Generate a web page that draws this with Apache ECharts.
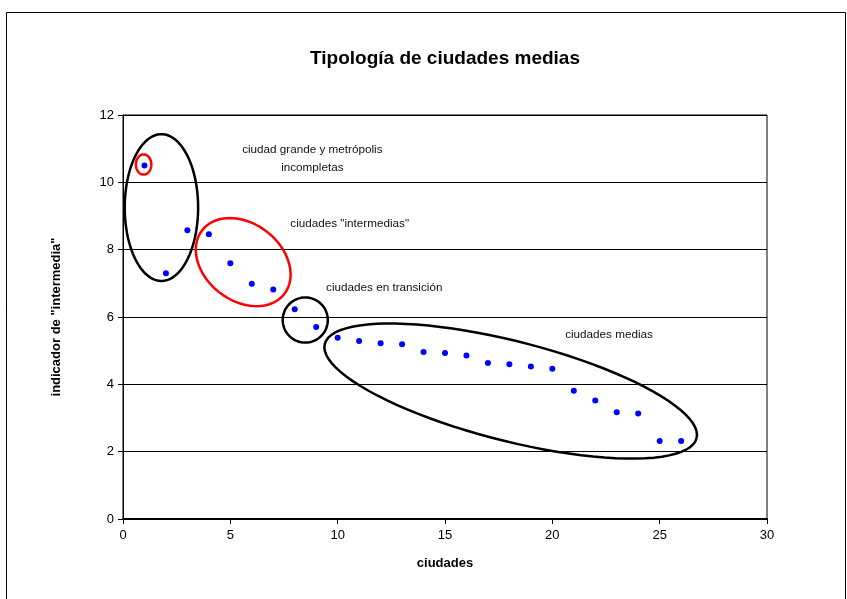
<!DOCTYPE html>
<html>
<head>
<meta charset="utf-8">
<script src="https://cdn.jsdelivr.net/npm/echarts@6/dist/echarts.min.js"></script>
<style>
  html, body { margin: 0; padding: 0; background: #fff; }
  #chart { width: 847px; height: 599px; }
</style>
</head>
<body>
<div id="chart"></div>
<script>
// ciudades (posición) e indicador de "intermedia"
const ciudades = [1, 2, 3, 4, 5, 6, 7, 8, 9, 10, 11, 12, 13, 14, 15, 16, 17, 18, 19, 20, 21, 22, 23, 24, 25, 26];
const indicador = [10.5, 7.3, 8.58, 8.46, 7.6, 6.99, 6.82, 6.23, 5.7, 5.38, 5.29, 5.22, 5.19, 4.96, 4.93, 4.86,
  4.63, 4.6, 4.53, 4.46, 3.81, 3.52, 3.17, 3.13, 2.32, 2.32];

const xTicks = [0, 5, 10, 15, 20, 25, 30];
const yTicks = [0, 2, 4, 6, 8, 10, 12];

// anotaciones: texto y su posición en coordenadas de datos
const etiquetas = ["ciudad grande y metrópolis\nincompletas", 'ciudades "intermedias"', "ciudades en transición", "ciudades medias"];
const etiquetasX = [8.82, 10.56, 12.17, 22.64];
const etiquetasY = [10.69, 8.76, 6.86, 5.46];

// elipses: centro y dos semiejes (vectores) en unidades de datos
const elipsesCentro = [[1.79, 9.25], [0.96, 10.53], [5.6, 7.63], [8.49, 5.91], [18.06, 3.8]];
const elipsesEjeU = [[1.71, 0], [0.36, 0], [1.92, -0.94], [1.05, 0], [8.66, -1.4]];
const elipsesEjeV = [[0, 2.18], [0, 0.3], [-1.09, -0.91], [0, 0.67], [-0.569, -1.437]];
const elipsesColor = ["#000", "#ff0000", "#ff0000", "#000", "#000"];

const font = "'Liberation Sans', Arial, sans-serif";
const chart = echarts.init(document.getElementById("chart"));

const option = {
  backgroundColor: "#fff",
  animation: false,
  graphic: [
    {
      type: "rect",
      shape: { x: 6.5, y: 12.5, width: 839, height: 600 },
      style: { fill: "none", stroke: "#000", lineWidth: 1 },
      silent: true,
    },
  ],
  title: {
    text: "Tipología de ciudades medias",
    left: 440,
    top: 44,
    textAlign: "center",
    textStyle: { fontFamily: font, fontSize: 19, fontWeight: "bold", color: "#000" },
  },
  grid: {
    left: 123,
    top: 115,
    width: 644,
    height: 404,
    show: true,
    borderColor: "#000",
    borderWidth: 1,
  },
  xAxis: {
    type: "value",
    min: 0,
    max: 30,
    interval: 5,
    name: "ciudades",
    nameLocation: "middle",
    nameGap: 38,
    nameTextStyle: { fontFamily: font, fontSize: 13, fontWeight: "bold", color: "#000" },
    axisLine: { lineStyle: { color: "#000", width: 2 } },
    axisTick: { show: true, length: 5, lineStyle: { color: "#000" } },
    axisLabel: { fontFamily: font, fontSize: 13, color: "#000", margin: 10 },
    splitLine: { show: false },
  },
  yAxis: {
    type: "value",
    min: 0,
    max: 12,
    interval: 2,
    name: 'indicador de "intermedia"',
    nameLocation: "middle",
    nameGap: 60,
    nameTextStyle: { fontFamily: font, fontSize: 13, fontWeight: "bold", color: "#000" },
    axisLine: { show: true, lineStyle: { color: "#000", width: 1 } },
    axisTick: { show: true, length: 5, lineStyle: { color: "#000" } },
    axisLabel: { fontFamily: font, fontSize: 13, color: "#000", margin: 9 },
    splitLine: { show: true, lineStyle: { color: "#000", width: 1 } },
  },
  series: [
    {
      type: "scatter",
      data: ciudades.map((c, i) => [c, indicador[i]]),
      symbol: "circle",
      symbolSize: 6,
      itemStyle: { color: "#0000ff", opacity: 1 },
      z: 5,
    },
    {
      type: "custom",
      silent: true,
      clip: false,
      data: elipsesCentro.map((c, i) => [c[0], c[1], i]),
      encode: { x: 0, y: 1 },
      renderItem: (params, api) => {
        const i = api.value(2);
        const [cx, cy] = elipsesCentro[i];
        const u = elipsesEjeU[i];
        const v = elipsesEjeV[i];
        const pts = [];
        for (let k = 0; k <= 90; k++) {
          const t = (k / 90) * Math.PI * 2;
          const ct = Math.cos(t), st = Math.sin(t);
          pts.push(api.coord([cx + u[0] * ct + v[0] * st, cy + u[1] * ct + v[1] * st]));
        }
        return {
          type: "polyline",
          shape: { points: pts },
          style: { fill: null, stroke: elipsesColor[i], lineWidth: 2.5 },
        };
      },
      z: 4,
    },
    {
      type: "scatter",
      silent: true,
      symbolSize: 0,
      data: etiquetas.map((t, i) => ({ name: t, value: [etiquetasX[i], etiquetasY[i]] })),
      itemStyle: { opacity: 1 },
      label: {
        show: true,
        position: "inside",
        formatter: (p) => p.name,
        fontFamily: font,
        fontSize: 11.7,
        lineHeight: 18,
        align: "center",
        color: "#111",
      },
      z: 6,
    },
  ],
};

chart.setOption(option);
</script>
</body>
</html>
